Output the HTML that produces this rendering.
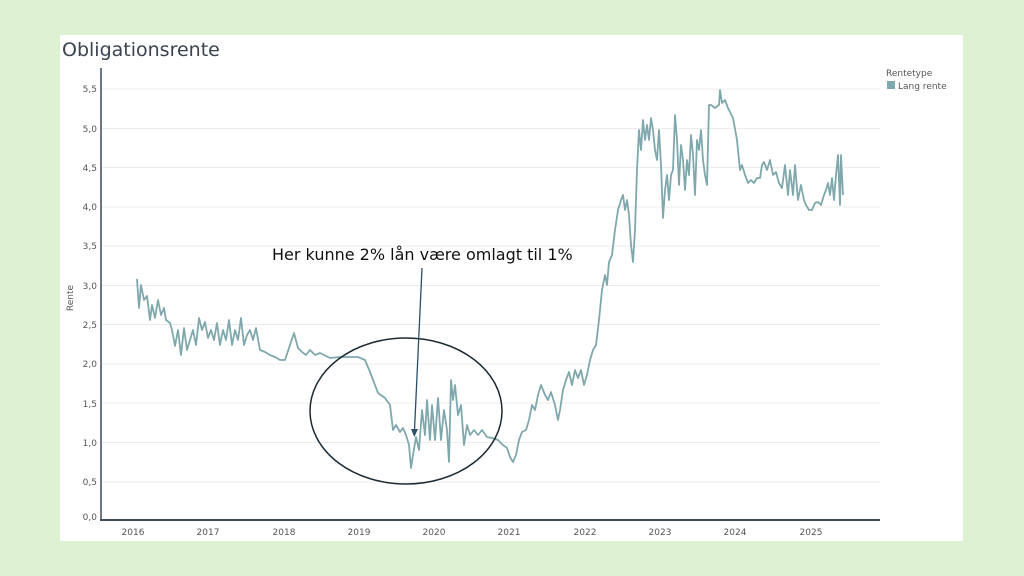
<!DOCTYPE html>
<html><head><meta charset="utf-8"><style>
html,body{margin:0;padding:0;background:#dcf2d2;width:1024px;height:576px;overflow:hidden}
svg{display:block}
text{font-family:"DejaVu Sans","Liberation Sans",sans-serif}
</style></head><body>
<svg width="1024" height="576" viewBox="0 0 1024 576">
<rect x="0" y="0" width="1024" height="576" fill="#dcf2d2"/>
<rect x="60" y="35" width="903" height="506" fill="#ffffff"/>
<text x="62" y="56" font-size="19" fill="#3a4450">Obligationsrente</text>
<g stroke="#ececec" stroke-width="1">
<line x1="102" x2="880" y1="482" y2="482"/><line x1="102" x2="880" y1="442.5" y2="442.5"/>
<line x1="102" x2="880" y1="403" y2="403"/><line x1="102" x2="880" y1="364" y2="364"/>
<line x1="102" x2="880" y1="324.5" y2="324.5"/><line x1="102" x2="880" y1="285.5" y2="285.5"/>
<line x1="102" x2="880" y1="246" y2="246"/><line x1="102" x2="880" y1="207" y2="207"/>
<line x1="102" x2="880" y1="167.5" y2="167.5"/><line x1="102" x2="880" y1="128.5" y2="128.5"/>
<line x1="102" x2="880" y1="89" y2="89"/>
</g>
<g font-size="9" fill="#555" text-anchor="end">
<text x="97" y="520">0,0</text><text x="97" y="485">0,5</text><text x="97" y="446">1,0</text>
<text x="97" y="407">1,5</text><text x="97" y="367">2,0</text><text x="97" y="328">2,5</text>
<text x="97" y="289">3,0</text><text x="97" y="249">3,5</text><text x="97" y="210">4,0</text>
<text x="97" y="171">4,5</text><text x="97" y="132">5,0</text><text x="97" y="92">5,5</text>
</g>
<text transform="translate(73,298) rotate(-90)" font-size="9" fill="#555" text-anchor="middle">Rente</text>
<g font-size="9" fill="#555" text-anchor="middle">
<text x="133" y="535">2016</text><text x="208" y="535">2017</text><text x="284" y="535">2018</text>
<text x="359" y="535">2019</text><text x="434" y="535">2020</text><text x="509" y="535">2021</text>
<text x="585" y="535">2022</text><text x="660" y="535">2023</text><text x="735" y="535">2024</text>
<text x="811" y="535">2025</text>
</g>
<line x1="101" y1="68" x2="101" y2="521" stroke="#3d4a5a" stroke-width="1.5"/>
<line x1="100" y1="520" x2="880" y2="520" stroke="#3d4a5a" stroke-width="2"/>
<polyline fill="none" stroke="#7fa8ad" stroke-width="1.8" stroke-linejoin="round" points="137,279 139,308 141,285 144,300 147,296 150,320 152,305 155,318 158,300 161,315 164,308 166,320 170,323 172,330 175,346 178,330 181,355 184,328 187,350 190,340 193,330 196,345 199,318 202,330 205,322 208,338 211,330 214,340 217,323 220,345 223,330 226,340 229,320 232,345 235,330 238,340 241,318 244,345 247,335 250,330 253,340 256,328 260,350 265,352 270,355 275,357 280,360 285,360 290,345 294,333 298,348 302,352 306,355 310,350 315,355 320,353 330,358 340,357 350,357 358,357 365,360 370,372 375,385 378,393 385,398 390,405 393,430 396,425 400,432 403,428 406,435 409,445 411,468 413,455 416,437 419,450 422,410 425,435 427,400 430,440 432,405 435,440 438,398 441,440 444,410 447,430 449,462 451,380 453,400 455,385 458,415 461,405 464,445 467,425 470,435 474,430 478,435 482,430 487,437 492,438 498,440 503,445 507,448 510,457 513,462 516,455 519,440 522,432 526,430 529,420 532,405 535,410 538,395 541,385 545,395 548,400 551,392 555,405 558,420 560,410 563,390 566,380 569,372 572,385 575,370 578,378 581,370 584,385 587,375 590,360 593,350 596,345 599,320 602,290 605,275 607,285 609,262 612,255 615,230 618,210 621,200 623,195 625,210 627,200 629,215 631,245 633,262 635,230 637,170 639,130 641,150 643,120 645,140 647,125 649,140 651,118 653,130 655,150 657,160 659,130 661,165 663,218 665,190 667,175 669,200 671,175 673,170 675,115 677,140 679,185 681,145 683,160 685,190 687,160 689,175 691,135 693,155 695,195 697,140 699,150 701,130 703,160 705,175 707,185 709,105 711,105 715,108 719,105 720,90 722,103 725,100 728,108 733,118 737,140 740,170 742,165 745,175 748,183 751,180 754,183 757,178 760,178 762,165 764,162 767,170 770,160 773,175 776,172 779,183 782,188 785,165 788,195 790,170 793,195 795,165 798,200 801,185 804,200 806,205 809,210 812,210 815,203 818,202 821,205 824,195 826,190 828,183 830,195 832,178 834,200 836,175 838,155 840,205 841,155 843,195"/>
<ellipse cx="406" cy="411" rx="96" ry="73" fill="none" stroke="#1c2a33" stroke-width="1.5"/>
<line x1="422" y1="268" x2="414.5" y2="430" stroke="#2a4f6a" stroke-width="1.3"/>
<polygon points="411,429 418,429 414.3,437" fill="#2a4f6a"/>
<text x="272" y="260" font-size="16" fill="#111" font-family="Liberation Sans, sans-serif">Her kunne 2% lån være omlagt til 1%</text>
<text x="886" y="76" font-size="9" fill="#555">Rentetype</text>
<rect x="887" y="81" width="8" height="8" fill="#7fa8ad"/>
<text x="898" y="89" font-size="9" fill="#555">Lang rente</text>
</svg>
</body></html>
